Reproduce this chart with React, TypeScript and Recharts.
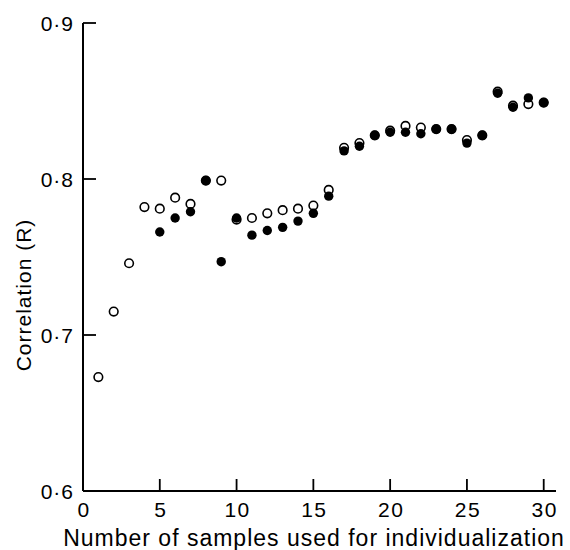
import { ScatterChart, Scatter, XAxis, YAxis } from 'recharts';

// samples used for individualization
const samples = [
  1, 2, 3, 4, 5, 6, 7, 8, 9, 10, 11, 12, 13, 14, 15,
  16, 17, 18, 19, 20, 21, 22, 23, 24, 25, 26, 27, 28, 29, 30,
];

// open circles
const openR = [
  0.673, 0.715, 0.746, 0.782, 0.781, 0.788, 0.784, 0.799, 0.799, 0.774,
  0.775, 0.778, 0.780, 0.781, 0.783, 0.793, 0.820, 0.823, 0.828, 0.831,
  0.834, 0.833, 0.832, 0.832, 0.825, 0.828, 0.856, 0.847, 0.848, 0.849,
];

// filled circles (none for the first four)
const filledR: (number | null)[] = [
  null, null, null, null, 0.766, 0.775, 0.779, 0.799, 0.747, 0.775,
  0.764, 0.767, 0.769, 0.773, 0.778, 0.789, 0.818, 0.821, 0.828, 0.830,
  0.830, 0.829, 0.832, 0.832, 0.823, 0.828, 0.855, 0.846, 0.852, 0.849,
];

const xTicks = [0, 5, 10, 15, 20, 25, 30];
const xTickLabels = ['0', '5', '10', '15', '20', '25', '30'];
const yTicks = [0.6, 0.7, 0.8, 0.9];
const yTickLabels = ['0·6', '0·7', '0·8', '0·9'];

const openData = samples.map((n, i) => ({ n, r: openR[i] }));
const filledData = samples
  .map((n, i) => ({ n, r: filledR[i] }))
  .filter((d) => d.r !== null);

const FONT = '"Liberation Sans", Arial, Helvetica, sans-serif';
const GAP = 8;

const renderYTick = (props: any) => {
  const { x, y, payload } = props;
  const v = payload.value;
  const label = yTickLabels[yTicks.indexOf(v)] ?? String(v);
  return (
    <g>
      {v !== yTicks[0] && (
        <line x1={x + GAP} x2={x + GAP + 13} y1={y} y2={y} stroke="#000" strokeWidth={1.8} />
      )}
      <text
        x={x - 1}
        y={y}
        dy="0.36em"
        textAnchor="end"
        fontSize={21}
        letterSpacing={1}
        fontFamily={FONT}
        fill="#000"
      >
        {label}
      </text>
    </g>
  );
};

const renderXTick = (props: any) => {
  const { x, y, payload } = props;
  const v = payload.value;
  const label = xTickLabels[xTicks.indexOf(v)] ?? String(v);
  return (
    <g>
      {v !== xTicks[0] && (
        <line x1={x} x2={x} y1={y - GAP} y2={y - GAP - 12} stroke="#000" strokeWidth={1.8} />
      )}
      <text
        x={x + 1}
        y={y + 18}
        textAnchor="middle"
        fontSize={21}
        letterSpacing={1.5}
        fontFamily={FONT}
        fill="#000"
      >
        {label}
      </text>
    </g>
  );
};

const OpenDot = (props: any) => (
  <circle cx={props.cx} cy={props.cy} r={4.3} fill="#fff" stroke="#000" strokeWidth={1.6} />
);

const FilledDot = (props: any) => (
  <circle cx={props.cx} cy={props.cy} r={4.7} fill="#000" />
);

export default function App() {
  return (
    <div style={{ position: 'absolute', left: 0, top: 0, background: '#fff' }}>
      <ScatterChart width={570} height={550} margin={{ top: 23, right: 14, bottom: 0, left: 0 }}>
        <XAxis
          type="number"
          dataKey="n"
          domain={[0, 30.8]}
          ticks={xTicks}
          interval={0}
          height={59}
          tickSize={0}
          tickMargin={GAP}
          tickLine={false}
          axisLine={{ stroke: '#000', strokeWidth: 2 }}
          tick={renderXTick}
          label={() => (
            <text
              x={314}
              y={546}
              textAnchor="middle"
              fontSize={23}
              fontFamily={FONT}
              letterSpacing={1}
              fill="#000"
            >
              Number of samples used for individualization
            </text>
          )}
        />
        <YAxis
          type="number"
          dataKey="r"
          domain={[0.6, 0.9]}
          ticks={yTicks}
          interval={0}
          width={83}
          tickSize={0}
          tickMargin={GAP}
          tickLine={false}
          axisLine={{ stroke: '#000', strokeWidth: 2 }}
          tick={renderYTick}
          label={() => (
            <text
              x={23}
              y={295}
              dy="0.36em"
              transform="rotate(-90 23 295)"
              textAnchor="middle"
              fontSize={21}
              fontFamily={FONT}
              letterSpacing={1}
              fill="#000"
            >
              Correlation (R)
            </text>
          )}
        />
        <Scatter data={openData} shape={<OpenDot />} isAnimationActive={false} />
        <Scatter data={filledData} shape={<FilledDot />} isAnimationActive={false} />
      </ScatterChart>
    </div>
  );
}
